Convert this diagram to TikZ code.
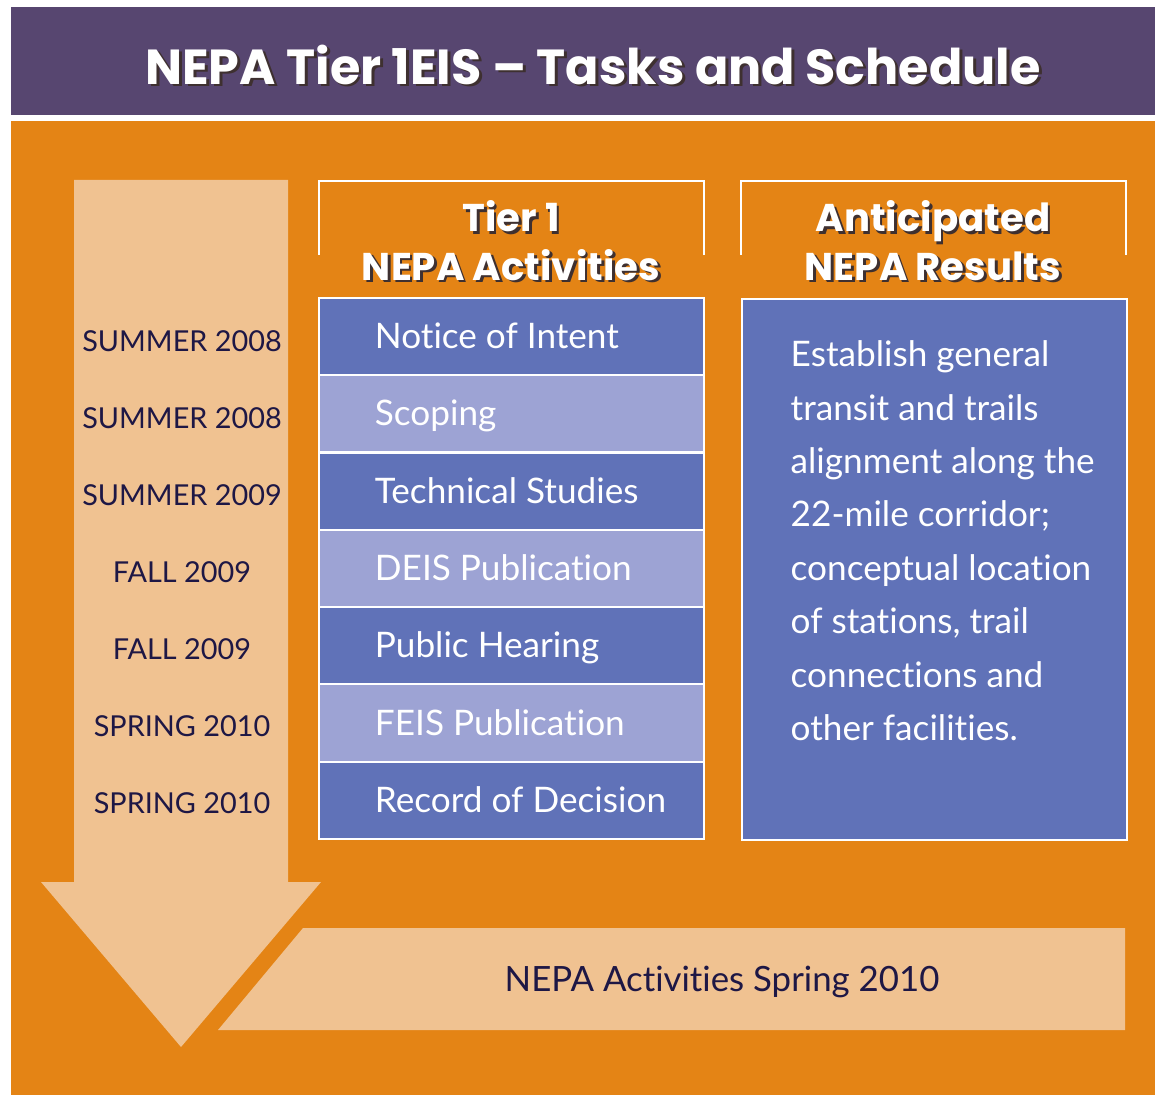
\documentclass[tikz,border=0pt]{standalone}
\usepackage{fontspec}
\setmainfont{Lato}[Ligatures=NoCommon]
\newfontfamily\headfont{Poppins}
\usepackage{tikz}

\definecolor{titlebg}{HTML}{574670}
\definecolor{orangebg}{HTML}{E48415}
\definecolor{peach}{HTML}{F0C291}
\definecolor{actdark}{HTML}{6072B8}
\definecolor{actlight}{HTML}{9DA3D4}
\definecolor{navy}{HTML}{1E1745}
\definecolor{shadowc}{HTML}{3E3030}

\newcommand{\shadowtxt}[1]{\leavevmode\rlap{\kern0.8pt\raisebox{-0.8pt}{\color{shadowc}#1}}#1}
\newcommand{\rowtxt}[1]{\makebox[2.73cm][l]{#1}}

\tikzset{
  rowbox/.style={draw=white, line width=0.6pt, minimum width=3.85cm, minimum height=0.773cm,
    inner xsep=0.56cm, inner ysep=0pt, text=white,
    text height=1.45ex, text depth=0.1ex,
    font=\fontsize{10}{12}\selectfont},
  datetext/.style={text=navy, font=\fontsize{8.2}{10}\selectfont},
  headtext/.style={text=white, align=center, font=\headfont\bfseries\fontsize{11}{13.7}\selectfont},
  bracket/.style={draw=white, line width=0.7pt}
}

\begin{document}
\begin{tikzpicture}[x=0.01cm, y=-0.01cm]
            \useasboundingbox (0,0) rectangle (1155,1095);
            \fill[white] (0,0) rectangle (1155,1095);

            % title bar and background
            \fill[titlebg] (11,7) rectangle (1155,115);
            \fill[orangebg] (11,121) rectangle (1155,1095);
            \node[text=white, font=\headfont\bfseries\fontsize{14}{18}\selectfont] (title) at (593,66) {\shadowtxt{NEPA Tier 1EIS – Tasks and Schedule}};

            % time arrow and bottom banner
            \fill[peach] (74,180) -- (288,180) -- (288,882) -- (321,882) -- (181,1047) -- (41,882) -- (74,882) -- cycle;
            \fill[peach] (303,928) -- (1125,928) -- (1125,1030) -- (218,1030) -- cycle;
            \node[text=navy, font=\fontsize{9.9}{12}\selectfont] (banner) at (722,982) {NEPA Activities Spring 2010};

            % column headings
            \draw[bracket] (319,255) -- (319,181) -- (704,181) -- (704,255);
            \draw[bracket] (741,255) -- (741,181) -- (1126,181) -- (1126,255);
            \node[headtext] (acthead) at (511,242) {\shadowtxt{Tier 1}\\\shadowtxt{NEPA Activities}};
            \node[headtext] (reshead) at (933,242) {\shadowtxt{Anticipated}\\\shadowtxt{NEPA Results}};

            % activities
            \node[rowbox, fill=actdark] (act1) at (511.5,336.6) {\rowtxt{Notice of Intent}};
            \node[rowbox, fill=actlight] (act2) at (511.5,413.9) {\rowtxt{Scoping}};
            \node[rowbox, fill=actdark] (act3) at (511.5,491.2) {\rowtxt{Technical Studies}};
            \node[rowbox, fill=actlight] (act4) at (511.5,568.5) {\rowtxt{DEIS Publication}};
            \node[rowbox, fill=actdark] (act5) at (511.5,645.8) {\rowtxt{Public Hearing}};
            \node[rowbox, fill=actlight] (act6) at (511.5,723.1) {\rowtxt{FEIS Publication}};
            \node[rowbox, fill=actdark] (act7) at (511.5,800.4) {\rowtxt{Record of Decision}};

            % dates
            \node[datetext] (date1) at (182,341) {SUMMER 2008};
            \node[datetext] (date2) at (182,418) {SUMMER 2008};
            \node[datetext] (date3) at (182,495) {SUMMER 2009};
            \node[datetext] (date4) at (182,572) {FALL 2009};
            \node[datetext] (date5) at (182,649) {FALL 2009};
            \node[datetext] (date6) at (182,726) {SPRING 2010};
            \node[datetext] (date7) at (182,803) {SPRING 2010};

            % results
            \node[draw=white, line width=0.6pt, fill=actdark, minimum width=3.85cm, minimum height=5.41cm, anchor=north west] (results) at (741,298) {};
            \node[text=white, anchor=north west, align=left, inner sep=0pt, font=\fontsize{10}{15.2}\selectfont] (restext) at (790,340) {Establish general\\transit and trails\\alignment along the\\22-mile corridor;\\conceptual location\\of stations, trail\\connections and\\other facilities.};
        \end{tikzpicture}
\end{document}
